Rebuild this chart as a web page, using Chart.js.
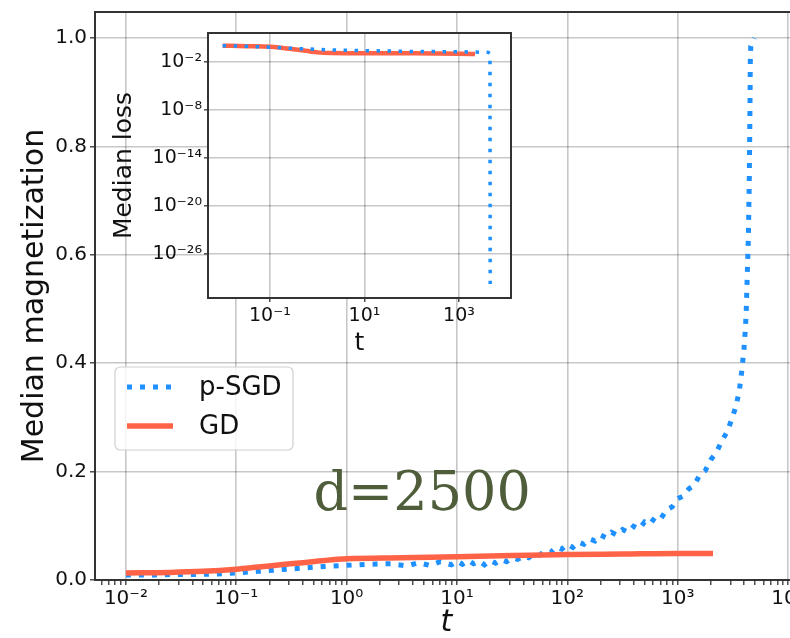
<!DOCTYPE html>
<html>
<head>
<meta charset="utf-8">
<script src="https://cdn.jsdelivr.net/npm/chart.js@4.4.0/dist/chart.umd.min.js"></script>
<style>
    html, body { margin: 0; padding: 0; overflow: hidden; background: #fff; }
    #wrap { position: relative; width: 790px; height: 638px; overflow: hidden; }
    #mainChart { position: absolute; left: 0; top: 0; }
    #insetChart { position: absolute; left: 100px; top: 25px; }
</style>
</head>
<body>
<div id="wrap">
    <canvas id="mainChart" width="800" height="638"></canvas>
    <canvas id="insetChart" width="420" height="340"></canvas>
</div>
<script>
// Median magnetization vs t (log10 of t, value)
const sgdExp = [-2.00, -1.80, -1.60, -1.40, -1.20, -1.00, -0.80, -0.60, -0.40, -0.20,
    0.00, 0.20, 0.40, 0.55, 0.65, 0.75, 0.85, 0.95, 1.00, 1.05, 1.10, 1.15, 1.20, 1.25,
    1.30, 1.35, 1.40, 1.45, 1.50, 1.55, 1.60, 1.65, 1.70, 1.75, 1.80, 1.85, 1.90, 1.95,
    2.00, 2.05, 2.10, 2.15, 2.20, 2.25, 2.30, 2.35, 2.40, 2.45, 2.50, 2.55, 2.60, 2.65,
    2.70, 2.75, 2.80, 2.85, 2.90, 2.95, 3.00, 3.05, 3.10, 3.15, 3.20, 3.25, 3.30, 3.35,
    3.40, 3.45, 3.50, 3.53, 3.56, 3.58, 3.60, 3.612, 3.620, 3.627, 3.640, 3.648, 3.654,
    3.658, 3.662, 3.694];
const sgdMag = [0.009, 0.009, 0.010, 0.010, 0.011, 0.013, 0.016, 0.019, 0.022, 0.025,
    0.027, 0.029, 0.030, 0.026, 0.032, 0.027, 0.034, 0.028, 0.035, 0.029, 0.036, 0.030, 0.035, 0.028,
    0.036, 0.031, 0.038, 0.034, 0.041, 0.038, 0.044, 0.041, 0.049, 0.046, 0.055, 0.051, 0.061, 0.057,
    0.066, 0.060, 0.070, 0.066, 0.076, 0.072, 0.083, 0.078, 0.088, 0.083, 0.093, 0.088, 0.099, 0.094,
    0.107, 0.103, 0.117, 0.114, 0.130, 0.135, 0.150, 0.155, 0.168, 0.175, 0.194, 0.202, 0.222, 0.235,
    0.257, 0.274, 0.303, 0.322, 0.352, 0.385, 0.425, 0.460, 0.490, 0.540, 0.630, 0.730, 0.850,
    0.960, 0.985, 1.000];
const gdExp = [-2.0, -1.6, -1.3, -1.0, -0.8, -0.6, -0.4, -0.2, 0.0, 0.5, 1.0, 1.5, 2.0, 2.5, 3.0, 3.32];
const gdMag = [0.013, 0.014, 0.016, 0.020, 0.024, 0.028, 0.032, 0.036, 0.039, 0.041, 0.043, 0.045, 0.047, 0.048, 0.049, 0.049];

// Median loss vs t (inset)
const lossSgdExp = [-2.0, -1.5, -1.0, -0.5, 0.0, 0.5, 1.0, 2.0, 3.0, 3.44, 3.62, 3.655, 3.66];
const lossSgd = [1.1, 0.9, 0.7, 0.5, 0.38, 0.3, 0.26, 0.21, 0.19, 0.17, 0.16, 0.12, 1.8e-30];
const lossGdExp = [-2.0, -1.5, -1.0, -0.5, 0.0, 0.3, 1.0, 2.0, 3.0, 3.34];
const lossGd = [1.1, 0.95, 0.8, 0.4, 0.16, 0.13, 0.12, 0.12, 0.11, 0.10];

// Tick positions and labels
const mainXTickExps = [-2, -1, 0, 1, 2, 3, 4];
const mainXTickLabels = ['10⁻²', '10⁻¹', '10⁰', '10¹', '10²', '10³', '10⁴'];
const mainYTicks = [0.0, 0.2, 0.4, 0.6, 0.8, 1.0];
const mainYTickLabels = ['0.0', '0.2', '0.4', '0.6', '0.8', '1.0'];
const insetXTickExps = [-1, 1, 3];
const insetXTickLabels = ['10⁻¹', '10¹', '10³'];
const insetYTickExps = [-2, -8, -14, -20, -26];
const insetYTickLabels = ['10⁻²', '10⁻⁸', '10⁻¹⁴', '10⁻²⁰', '10⁻²⁶'];

const SANS = 'DejaVu Sans';
const BLUE = '#1e90ff';
const RED = '#ff6347';
const GRID = 'rgba(0,0,0,0.22)';
const SPINE = '#333';
const TEXT = '#111';

const toPoints = (exps, vals) => exps.map((e, i) => ({ x: Math.pow(10, e), y: vals[i] }));

function logTicks(exps, withMinor, min, max) {
    const ticks = exps.map(e => ({ value: Math.pow(10, e), major: true, exp: e }));
    if (withMinor) {
        for (let e = Math.floor(Math.log10(min)); e <= Math.ceil(Math.log10(max)); e++) {
            for (let k = 2; k <= 9; k++) {
                const v = k * Math.pow(10, e);
                if (v > min && v < max) ticks.push({ value: v, major: false });
            }
        }
    }
    return ticks.sort((a, b) => a.value - b.value);
}

function fixSize(prop, size) {
    return scale => {
        scale[prop] = size;
        scale.paddingLeft = scale.paddingRight = scale.paddingTop = scale.paddingBottom = 0;
    };
}

// spines on all four sides of the plot area
const framePlugin = {
    id: 'frame',
    afterDatasetsDraw(chart) {
        const { ctx, chartArea: a } = chart;
        ctx.save();
        ctx.strokeStyle = SPINE;
        ctx.lineWidth = 2;
        ctx.strokeRect(a.left, a.top, a.right - a.left, a.bottom - a.top);
        ctx.restore();
    }
};

// white axes background (inset only; labels stay transparent)
const whiteAreaPlugin = {
    id: 'whiteArea',
    beforeDraw(chart) {
        const { ctx, chartArea: a } = chart;
        ctx.save();
        ctx.fillStyle = '#fff';
        ctx.fillRect(a.left, a.top, a.right - a.left, a.bottom - a.top);
        ctx.restore();
    }
};

const annotationPlugin = {
    id: 'dLabel',
    afterDatasetsDraw(chart) {
        const { ctx, scales } = chart;
        ctx.save();
        ctx.font = '54px "DejaVu Serif"';
        ctx.fillStyle = '#4f5d3b';
        ctx.textAlign = 'left';
        ctx.textBaseline = 'alphabetic';
        ctx.fillText('d=2500', scales.x.getPixelForValue(Math.pow(10, -0.3)), scales.y.getPixelForValue(0.129));
        ctx.restore();
    }
};

const legendPlugin = {
    id: 'boxLegend',
    afterDraw(chart) {
        const { ctx } = chart;
        const entries = ['p-SGD', 'GD'].map(l => chart.data.datasets.find(d => d.label === l));
        const x = 115, y = 367, w = 178, h = 83;
        ctx.save();
        ctx.fillStyle = 'rgba(255,255,255,0.8)';
        ctx.strokeStyle = '#d0d0d0';
        ctx.lineWidth = 1.2;
        ctx.beginPath();
        ctx.roundRect(x, y, w, h, 5);
        ctx.fill();
        ctx.stroke();
        entries.forEach((ds, i) => {
            const ly = y + 20 + i * 39;
            ctx.strokeStyle = ds.borderColor;
            ctx.lineWidth = ds.borderWidth;
            ctx.lineCap = 'butt';
            ctx.setLineDash(ds.borderDash || []);
            ctx.beginPath();
            ctx.moveTo(x + 12, ly);
            ctx.lineTo(x + 58, ly);
            ctx.stroke();
            ctx.setLineDash([]);
            ctx.fillStyle = TEXT;
            ctx.font = '26px "' + SANS + '"';
            ctx.textBaseline = 'middle';
            ctx.fillText(ds.label, x + 84, ly + 1);
        });
        ctx.restore();
    }
};

const mainXMin = Math.pow(10, -2.28), mainXMax = Math.pow(10, 4.09);

new Chart(document.getElementById('mainChart'), {
    type: 'line',
    data: {
        datasets: [{
            label: 'GD',
            data: toPoints(gdExp, gdMag),
            borderColor: RED,
            borderWidth: 5.5,
            pointRadius: 0,
            cubicInterpolationMode: 'monotone'
        }, {
            label: 'p-SGD',
            data: toPoints(sgdExp, sgdMag),
            borderColor: BLUE,
            borderWidth: 5,
            borderDash: [5, 8],
            borderCapStyle: 'butt',
            pointRadius: 0,
            tension: 0
        }]
    },
    options: {
        responsive: false,
        animation: false,
        devicePixelRatio: 1,
        layout: { padding: { top: 12, right: 2, left: 0, bottom: 0 } },
        plugins: { legend: { display: false }, tooltip: { enabled: false } },
        scales: {
            x: {
                type: 'logarithmic',
                bounds: 'data',
                min: mainXMin,
                max: mainXMax,
                afterBuildTicks: s => { s.ticks = logTicks(mainXTickExps, true, mainXMin, mainXMax); },
                afterFit: fixSize('height', 58),
                ticks: {
                    autoSkip: false,
                    maxRotation: 0,
                    padding: 2,
                    color: TEXT,
                    font: { family: SANS, size: 20 },
                    callback: (v, i, t) => t[i].major ? mainXTickLabels[mainXTickExps.indexOf(t[i].exp)] : ''
                },
                grid: {
                    color: c => (c.tick && c.tick.major) ? GRID : 'rgba(0,0,0,0)',
                    lineWidth: 1.6,
                    tickColor: SPINE,
                    tickLength: 5,
                    tickWidth: 1.3
                },
                border: { color: SPINE, width: 2 },
                title: {
                    display: true,
                    text: 't',
                    color: TEXT,
                    font: { family: SANS, size: 30, style: 'italic', lineHeight: 1 },
                    padding: { top: 0, bottom: 0 }
                }
            },
            y: {
                type: 'linear',
                bounds: 'data',
                min: 0,
                max: 1.048,
                afterBuildTicks: s => { s.ticks = mainYTicks.map(v => ({ value: v })); },
                afterFit: fixSize('width', 95),
                ticks: {
                    padding: 3,
                    color: TEXT,
                    font: { family: SANS, size: 20 },
                    callback: (v, i) => mainYTickLabels[i]
                },
                grid: { color: GRID, lineWidth: 1.6, tickColor: SPINE, tickLength: 5, tickWidth: 1.3 },
                border: { color: SPINE, width: 2 },
                title: {
                    display: true,
                    text: 'Median magnetization',
                    color: TEXT,
                    font: { family: SANS, size: 30, lineHeight: 1 },
                    padding: { top: 20, bottom: 0 }
                }
            }
        }
    },
    plugins: [framePlugin, annotationPlugin, legendPlugin]
});

const insetXMin = Math.pow(10, -2.31), insetXMax = Math.pow(10, 4.10);
const insetYMin = Math.pow(10, -31.5), insetYMax = Math.pow(10, 1.625);

new Chart(document.getElementById('insetChart'), {
    type: 'line',
    data: {
        datasets: [{
            label: 'p-SGD',
            data: toPoints(lossSgdExp, lossSgd),
            borderColor: BLUE,
            borderWidth: 3.5,
            borderDash: [3.5, 7.5],
            borderCapStyle: 'butt',
            pointRadius: 0,
            tension: 0
        }, {
            label: 'GD',
            data: toPoints(lossGdExp, lossGd),
            borderColor: RED,
            borderWidth: 4.5,
            pointRadius: 0,
            cubicInterpolationMode: 'monotone'
        }]
    },
    options: {
        responsive: false,
        animation: false,
        devicePixelRatio: 1,
        layout: { padding: { top: 8, right: 9, left: 0, bottom: 0 } },
        plugins: { legend: { display: false }, tooltip: { enabled: false } },
        scales: {
            x: {
                type: 'logarithmic',
                bounds: 'data',
                min: insetXMin,
                max: insetXMax,
                afterBuildTicks: s => { s.ticks = logTicks(insetXTickExps, false); },
                afterFit: fixSize('height', 67),
                ticks: {
                    autoSkip: false,
                    maxRotation: 0,
                    padding: 3,
                    color: TEXT,
                    font: { family: SANS, size: 19 },
                    callback: (v, i, t) => insetXTickLabels[insetXTickExps.indexOf(t[i].exp)]
                },
                grid: { color: GRID, lineWidth: 1.6, tickColor: SPINE, tickLength: 4, tickWidth: 1.3 },
                border: { color: SPINE, width: 2 },
                title: {
                    display: true,
                    text: 't',
                    color: TEXT,
                    font: { family: SANS, size: 25, lineHeight: 1 },
                    padding: { top: 0, bottom: 9 }
                }
            },
            y: {
                type: 'logarithmic',
                bounds: 'data',
                min: insetYMin,
                max: insetYMax,
                afterBuildTicks: s => { s.ticks = logTicks(insetYTickExps, false); },
                afterFit: fixSize('width', 108),
                ticks: {
                    autoSkip: false,
                    padding: 2,
                    color: TEXT,
                    font: { family: SANS, size: 19 },
                    callback: (v, i, t) => insetYTickLabels[insetYTickExps.indexOf(t[i].exp)]
                },
                grid: { color: GRID, lineWidth: 1.6, tickColor: SPINE, tickLength: 4, tickWidth: 1.3 },
                border: { color: SPINE, width: 2 },
                title: {
                    display: true,
                    text: 'Median loss',
                    color: TEXT,
                    font: { family: SANS, size: 25, lineHeight: 1 },
                    padding: { top: 12, bottom: 0 }
                }
            }
        }
    },
    plugins: [whiteAreaPlugin, framePlugin]
});
</script>
</body>
</html>
